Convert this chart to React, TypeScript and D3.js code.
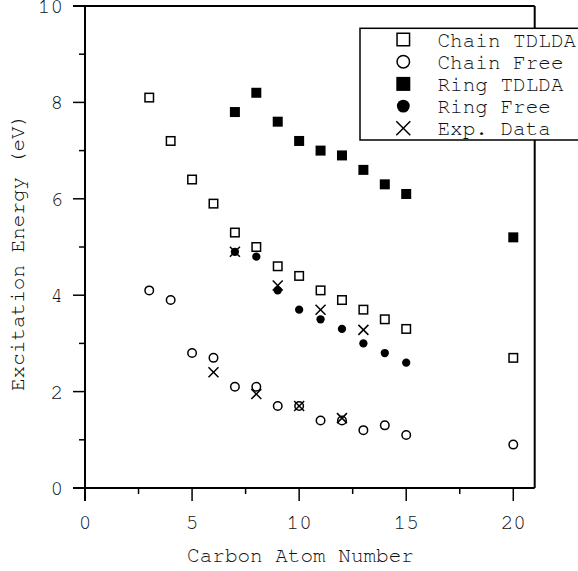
import React from "react";
import * as d3 from "d3";

const atomsChain = [3, 4, 5, 6, 7, 8, 9, 10, 11, 12, 13, 14, 15, 20];
const chainTDLDA = [8.1, 7.2, 6.4, 5.9, 5.3, 5.0, 4.6, 4.4, 4.1, 3.9, 3.7, 3.5, 3.3, 2.7];
const chainFree = [4.1, 3.9, 2.8, 2.7, 2.1, 2.1, 1.7, 1.7, 1.4, 1.4, 1.2, 1.3, 1.1, 0.9];
const atomsRingT = [7, 8, 9, 10, 11, 12, 13, 14, 15, 20];
const ringTDLDA = [7.8, 8.2, 7.6, 7.2, 7.0, 6.9, 6.6, 6.3, 6.1, 5.2];
const atomsRingF = [7, 8, 9, 10, 11, 12, 13, 14, 15];
const ringFree = [4.9, 4.8, 4.1, 3.7, 3.5, 3.3, 3.0, 2.8, 2.6];
const atomsExp = [6, 7, 8, 9, 10, 11, 12, 13];
const expData = [2.4, 4.9, 1.95, 4.2, 1.7, 3.7, 1.45, 3.28];

const xTicks = [0, 5, 10, 15, 20];
const xMinor = [2.5, 7.5, 12.5, 17.5];
const yTicks = [0, 2, 4, 6, 8, 10];
const yMinor = [1, 3, 5, 7, 9];
const legendLabels = ["Chain TDLDA", "Chain Free", "Ring TDLDA", "Ring Free", "Exp. Data"];

const FONT = "'Nimbus Mono PS', 'Nimbus Mono L', FreeMono, Courier, 'Liberation Mono', monospace";

type Kind = "osq" | "ocirc" | "fsq" | "fcirc" | "x";

function Marker({ kind, cx, cy, s }: { kind: Kind; cx: number; cy: number; s: number }) {
  const h = s / 2;
  if (kind === "osq")
    return <rect x={cx - h + 0.75} y={cy - h + 0.75} width={s - 1.5} height={s - 1.5} fill="white" stroke="#000" strokeWidth={1.5} />;
  if (kind === "ocirc")
    return <circle cx={cx} cy={cy} r={h - 0.75} fill="white" stroke="#000" strokeWidth={1.5} />;
  if (kind === "fsq") return <rect x={cx - h} y={cy - h} width={s} height={s} fill="#000" />;
  if (kind === "fcirc") return <circle cx={cx} cy={cy} r={h * 0.92} fill="#000" />;
  return (
    <g stroke="#000" strokeWidth={1.5}>
      <line x1={cx - h} y1={cy - h} x2={cx + h} y2={cy + h} />
      <line x1={cx - h} y1={cy + h} x2={cx + h} y2={cy - h} />
    </g>
  );
}

export default function App() {
  const W = 578, H = 571;
  const x = d3.scaleLinear().domain([0, 21]).range([85, 534.7]);
  const y = d3.scaleLinear().domain([0, 10]).range([488, 6]);
  const L = x(0), R = x(21), T = y(10), B = y(0);

  const series: { xs: number[]; ys: number[]; kind: Kind }[] = [
    { xs: atomsChain, ys: chainTDLDA, kind: "osq" },
    { xs: atomsChain, ys: chainFree, kind: "ocirc" },
    { xs: atomsRingT, ys: ringTDLDA, kind: "fsq" },
    { xs: atomsRingF, ys: ringFree, kind: "fcirc" },
    { xs: atomsExp, ys: expData, kind: "x" },
  ];
  const kinds: Kind[] = ["osq", "ocirc", "fsq", "fcirc", "x"];

  return (
    <svg width={W} height={H} style={{ position: "absolute", left: 0, top: 0, background: "white" }}>
      <rect width={W} height={H} fill="white" />
      <g stroke="#000" strokeWidth={2} fill="none">
        <line x1={L - 12} y1={T} x2={R} y2={T} />
        <line x1={L - 12} y1={B} x2={R} y2={B} />
        <line x1={L} y1={T} x2={L} y2={B + 13} />
        <line x1={R} y1={T} x2={R} y2={B} />
      </g>
      <g stroke="#000" strokeWidth={1.5}>
        {yTicks.map((t) => (
          <line key={"y" + t} x1={L - 12} x2={L} y1={y(t)} y2={y(t)} />
        ))}
        {yMinor.map((t) => (
          <line key={"ym" + t} x1={L - 6} x2={L} y1={y(t)} y2={y(t)} />
        ))}
        {xTicks.map((t) => (
          <line key={"x" + t} x1={x(t)} x2={x(t)} y1={B} y2={B + 13} />
        ))}
        {xMinor.map((t) => (
          <line key={"xm" + t} x1={x(t)} x2={x(t)} y1={B} y2={B + 6} />
        ))}
      </g>
      <g fontFamily={FONT} fontSize={21} fill="#111">
        {yTicks.map((t) => (
          <text key={"yl" + t} x={63} y={y(t) + 7} textAnchor="end">
            {t}
          </text>
        ))}
        {xTicks.map((t) => (
          <text key={"xl" + t} x={x(t)} y={528.5} textAnchor="middle">
            {t}
          </text>
        ))}
        <text x={300.5} y={561.5} textAnchor="middle">
          Carbon Atom Number
        </text>
        <text transform={`translate(23.5,252.4) rotate(-90)`} textAnchor="middle">
          Excitation Energy (eV)
        </text>
      </g>
      {series.map((s, i) => (
        <g key={i}>
          {s.xs.map((xv, j) => (
            <Marker key={j} kind={s.kind} cx={x(xv)} cy={y(s.ys[j])} s={s.kind === "fcirc" ? 9 : 10} />
          ))}
        </g>
      ))}
      <rect x={360} y={28.3} width={240} height={111.7} fill="white" stroke="#000" strokeWidth={1.5} />
      {legendLabels.map((lab, i) => (
        <g key={lab}>
          <Marker kind={kinds[i]} cx={403.3} cy={39.5 + i * 22.2} s={14} />
          <text x={437.5} y={46.5 + i * 22.2} fontFamily={FONT} fontSize={21} fill="#111">
            {lab}
          </text>
        </g>
      ))}
    </svg>
  );
}
